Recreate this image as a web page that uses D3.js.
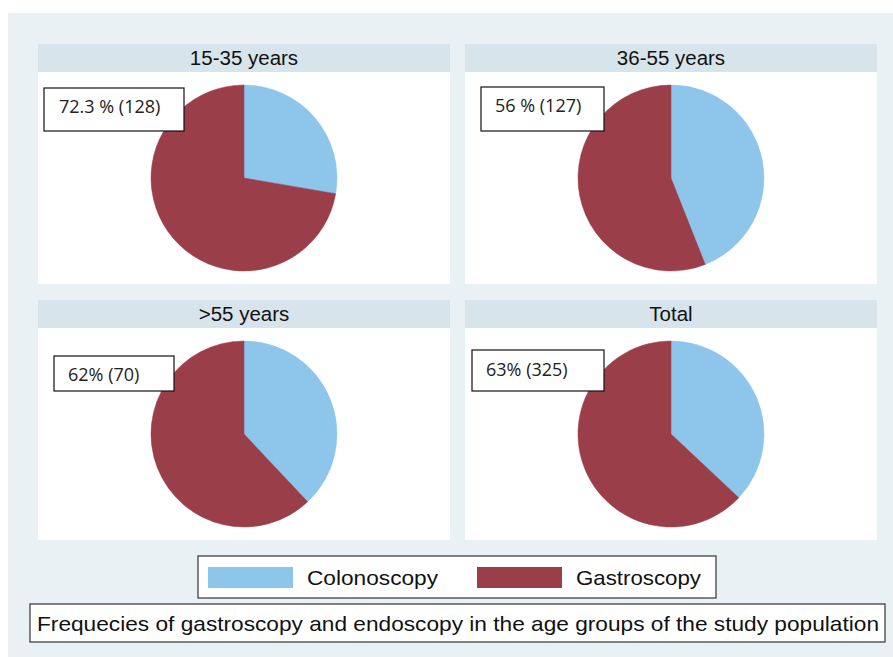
<!DOCTYPE html>
<html>
<head>
<meta charset="utf-8">
<script src="https://cdn.jsdelivr.net/npm/d3@7"></script>
<style>
  body { margin: 0; background: #fff; }
  svg { display: block; }
</style>
</head>
<body>
<div id="chart"></div>
<script>
// panel data
const groups = ["15-35 years", "36-55 years", ">55 years", "Total"];
const categories = ["Colonoscopy", "Gastroscopy"];
const colonPct = [27.7, 44, 38, 37];
const gastroPct = [72.3, 56, 62, 63];
const boxLabels = ["72.3 % (128)", "56 % (127)", "62% (70)", "63% (325)"];
const caption = "Frequecies of gastroscopy and endoscopy in the age groups of the study population";

const width = 893, height = 657;
const colors = d3.scaleOrdinal().domain(categories).range(["#8ec5ea", "#9a3f4a"]);

const svg = d3.select("#chart")
  .append("svg")
  .attr("width", width)
  .attr("height", height);

// outer graph region
svg.append("rect")
  .attr("x", 8).attr("y", 13)
  .attr("width", 885).attr("height", 644)
  .attr("fill", "#eaf1f4");

// panel layout
const col = d3.scaleOrdinal().domain([0, 1]).range([38, 465]);
const row = d3.scaleOrdinal().domain([0, 1]).range([44, 300]);
const panelW = 412, headH = 28, plotH = 212;
const boxW = [140, 123, 120, 132];

const pie = d3.pie().sort(null).value(d => d.value);
const arc = d3.arc().innerRadius(0).outerRadius(93);

groups.forEach((g, i) => {
  const px = col(i % 2), py = row(Math.floor(i / 2));
  const p = svg.append("g").attr("transform", `translate(${px},${py})`);

  p.append("rect")
    .attr("width", panelW).attr("height", headH)
    .attr("fill", "#d8e4eb");
  p.append("text")
    .attr("x", panelW / 2).attr("y", 21)
    .attr("text-anchor", "middle")
    .attr("font-family", "Liberation Sans, Arial, sans-serif")
    .attr("font-size", 20.5)
    .attr("fill", "#111")
    .text(g);

  p.append("rect")
    .attr("y", headH)
    .attr("width", panelW).attr("height", plotH)
    .attr("fill", "#fff");

  const slices = pie([
    { key: categories[0], value: colonPct[i] },
    { key: categories[1], value: gastroPct[i] }
  ]);
  p.append("g")
    .attr("transform", `translate(${206},${headH + 106})`)
    .selectAll("path")
    .data(slices)
    .enter()
    .append("path")
    .attr("d", arc)
    .attr("fill", d => colors(d.data.key))
    .attr("stroke", d => colors(d.data.key))
    .attr("stroke-width", 0.5);

  // label box
  const bx = [6, 16, 16, 7][i], by = [44, 43, 56, 50][i];
  const bh = [43, 44, 35, 41][i];
  p.append("rect")
    .attr("x", bx).attr("y", by)
    .attr("width", boxW[i]).attr("height", bh)
    .attr("fill", "#fff")
    .attr("stroke", "#111")
    .attr("stroke-width", 1.2);
  p.append("text")
    .attr("x", bx + [15, 14, 14, 14][i]).attr("y", by + [25, 25, 25, 26][i])
    .attr("font-family", "Open Sans, Noto Sans, sans-serif")
    .attr("font-size", 18)
    .attr("fill", "#222")
    .text(boxLabels[i]);
});

// legend
const legend = svg.append("g").attr("transform", "translate(198,556)");
legend.append("rect")
  .attr("width", 518).attr("height", 42)
  .attr("fill", "#fff")
  .attr("stroke", "#333")
  .attr("stroke-width", 1.2);
const legendX = d3.scaleOrdinal().domain(categories).range([10, 279]);
const legendW = d3.scaleOrdinal().domain(categories).range([131, 125]);
categories.forEach(c => {
  legend.append("rect")
    .attr("x", legendX(c)).attr("y", 11)
    .attr("width", 85).attr("height", 21)
    .attr("fill", colors(c));
  legend.append("text")
    .attr("x", legendX(c) + 99).attr("y", 29)
    .attr("font-family", "Liberation Sans, Arial, sans-serif")
    .attr("font-size", 21)
    .attr("fill", "#111")
    .attr("textLength", legendW(c))
    .attr("lengthAdjust", "spacingAndGlyphs")
    .text(c);
});

// caption
svg.append("rect")
  .attr("x", 30).attr("y", 604)
  .attr("width", 855).attr("height", 38)
  .attr("fill", "#fff")
  .attr("stroke", "#333")
  .attr("stroke-width", 1.2);
svg.append("text")
  .attr("x", 37).attr("y", 631)
  .attr("font-family", "Liberation Sans, Arial, sans-serif")
  .attr("font-size", 21)
  .attr("fill", "#111")
  .attr("textLength", 842)
  .attr("lengthAdjust", "spacingAndGlyphs")
  .text(caption);
</script>
</body>
</html>
